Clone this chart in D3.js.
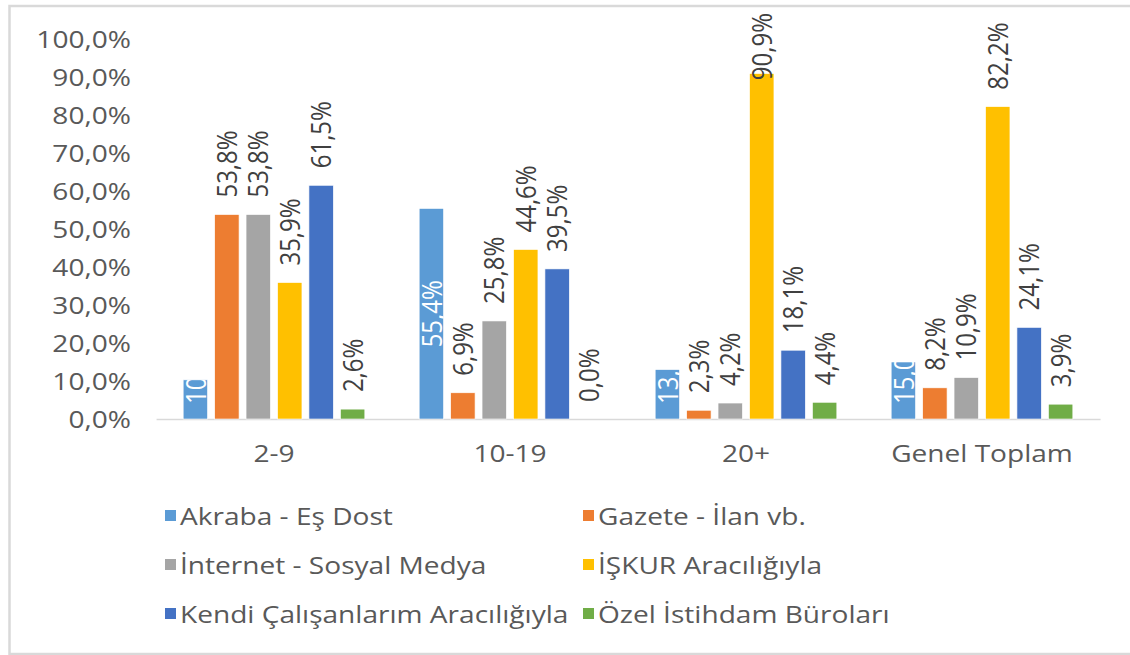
<!DOCTYPE html>
<html>
<head>
<meta charset="utf-8">
<script src="https://cdn.jsdelivr.net/npm/d3@7"></script>
<style>
  body { margin: 0; background: #fff; }
  text { font-family: "Open Sans", sans-serif; }
</style>
</head>
<body>
<script>
// categories / series
const groups = ["2-9", "10-19", "20+", "Genel Toplam"];
const seriesNames = [
  "Akraba - Eş Dost",
  "Gazete - İlan vb.",
  "İnternet - Sosyal Medya",
  "İŞKUR Aracılığıyla",
  "Kendi Çalışanlarım Aracılığıyla",
  "Özel İstihdam Büroları"
];
const seriesColors = ["#5B9BD5", "#ED7D31", "#A5A5A5", "#FFC000", "#4472C4", "#70AD47"];

// values per series, one per group (percent)
const akraba   = [10.3, 55.4, 13.0, 15.0];
const gazete   = [53.8, 6.9, 2.3, 8.2];
const internet = [53.8, 25.8, 4.2, 10.9];
const iskur    = [35.9, 44.6, 90.9, 82.2];
const kendi    = [61.5, 39.5, 18.1, 24.1];
const ozel     = [2.6, 0.0, 4.4, 3.9];
const seriesValues = [akraba, gazete, internet, iskur, kendi, ozel];

const yTicks = [0, 10, 20, 30, 40, 50, 60, 70, 80, 90, 100];

const WIDTH = 1130, HEIGHT = 655;
const SX = 1.17; // the picture is stretched sideways

const svg = d3.select('body').append('svg')
  .attr('width', WIDTH)
  .attr('height', HEIGHT);

// outer frame
svg.append('rect')
  .attr('x', 9.5).attr('y', 6)
  .attr('width', 1140).attr('height', 648)
  .attr('fill', 'none')
  .attr('stroke', '#d9d9d9')
  .attr('stroke-width', 2.5);

const g = svg.append('g').attr('transform', 'scale(' + SX + ',1)');

const fmt = v => d3.format('.1f')(v).replace('.', ',') + '%';

// scales
const x0 = d3.scaleBand()
  .domain(groups)
  .range([156 / SX, 1100 / SX])
  .paddingInner(0.23)
  .paddingOuter(0.115);

const x1 = d3.scaleBand()
  .domain(d3.range(seriesNames.length))
  .range([0, x0.bandwidth()])
  .paddingInner(0.22);

const y = d3.scaleLinear()
  .domain([0, 100])
  .range([419, 39]);

// y axis
const yAxis = g.append('g')
  .attr('transform', 'translate(' + (131 / SX) + ',0)')
  .call(d3.axisLeft(y).tickValues(yTicks).tickSize(0).tickPadding(0)
    .tickFormat(d => d3.format('.1f')(d).replace('.', ',') + '%'));
yAxis.select('.domain').remove();
yAxis.selectAll('text')
  .attr('fill', '#595959')
  .attr('font-size', '24px')
  .attr('dy', '0.36em');

// x axis
const xAxis = g.append('g')
  .attr('transform', 'translate(0,' + y(0) + ')')
  .call(d3.axisBottom(x0).tickSize(0).tickSizeOuter(0).tickPadding(26));
xAxis.select('.domain')
  .attr('stroke', '#d9d9d9')
  .attr('stroke-width', 1.5);
xAxis.selectAll('text')
  .attr('fill', '#595959')
  .attr('font-size', '24px');

// bars
const defs = svg.append('defs');
const barData = [];
groups.forEach((grp, gi) => {
  seriesValues.forEach((vals, si) => {
    barData.push({ group: grp, gi: gi, si: si, value: vals[gi] });
  });
});

const bars = g.append('g');
bars.selectAll('rect')
  .data(barData)
  .enter()
  .append('rect')
  .attr('x', d => x0(d.group) + x1(d.si))
  .attr('y', d => y(d.value))
  .attr('width', x1.bandwidth())
  .attr('height', d => y(0) - y(d.value))
  .attr('fill', d => seriesColors[d.si])
  .attr('stroke', '#fff')
  .attr('stroke-width', 0.6);

// data labels
const GAP = 17;
const TOP_LIMIT = 13;
const labels = g.append('g');
barData.forEach((d, i) => {
  const cx = x0(d.group) + x1(d.si) + x1.bandwidth() / 2;
  const t = labels.append('text')
    .attr('font-size', '24px')
    .attr('text-anchor', 'start')
    .attr('dy', '0.36em')
    .text(fmt(d.value));
  const len = t.node().getComputedTextLength();
  let base;
  if (d.si === 0) {
    // first series: centred inside the bar, white, clipped to the bar
    const mid = (y(d.value) + y(0)) / 2;
    base = Math.min(mid + len / 2, y(0) - 15);
    defs.append('clipPath').attr('id', 'clip' + i)
      .append('rect')
      .attr('x', x0(d.group) + x1(d.si))
      .attr('y', y(d.value))
      .attr('width', x1.bandwidth())
      .attr('height', y(0) - y(d.value));
    t.attr('fill', '#fff');
    const wrap = labels.append('g').attr('clip-path', 'url(#clip' + i + ')');
    wrap.node().appendChild(t.node());
  } else {
    base = y(d.value) - GAP;
    if (base - len < TOP_LIMIT) base = TOP_LIMIT + len;
    t.attr('fill', '#404040');
  }
  t.attr('transform', 'translate(' + cx + ',' + base + ') rotate(-90)');
});

// legend
const legendCols = [165 / SX, 583 / SX];
const legendRows = [516, 565, 614];
const legend = g.append('g');
seriesNames.forEach((name, i) => {
  const lx = legendCols[i % 2];
  const ly = legendRows[Math.floor(i / 2)];
  legend.append('rect')
    .attr('x', lx)
    .attr('y', ly - 6)
    .attr('width', 11 / SX)
    .attr('height', 11)
    .attr('fill', seriesColors[i]);
  legend.append('text')
    .attr('x', lx + 15 / SX)
    .attr('y', ly)
    .attr('dy', '0.36em')
    .attr('font-size', '24px')
    .attr('fill', '#595959')
    .text(name);
});
</script>
</body>
</html>
